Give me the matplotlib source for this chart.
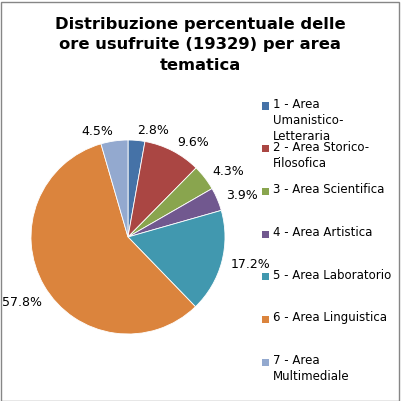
import matplotlib
matplotlib.use("Agg")
import matplotlib.pyplot as plt
from matplotlib.patches import Rectangle
import numpy as np

categories = ["1 - Area\nUmanistico-\nLetteraria", "2 - Area Storico-\nFilosofica",
              "3 - Area Scientifica", "4 - Area Artistica", "5 - Area Laboratorio",
              "6 - Area Linguistica", "7 - Area\nMultimediale"]
values = [2.8, 9.6, 4.3, 3.9, 17.2, 57.8, 4.5]
colors = ["#4572A7", "#AA4643", "#89A54E", "#71588F", "#4198AF", "#DB843D", "#93A9CF"]
title = "Distribuzione percentuale delle\nore usufruite (19329) per area\ntematica"

W = H = 401
fig = plt.figure(figsize=(W / 100, H / 100), dpi=100)
fig.patch.set_facecolor("white")

cx, cy, r = 128, 237, 97
ax = fig.add_axes([(cx - r) / W, (H - cy - r) / H, 2 * r / W, 2 * r / H])
labels = ["%.1f%%" % v for v in values]
wedges, texts = ax.pie(values, colors=colors, startangle=90, counterclock=False,
                       labels=labels, labeldistance=1.1,
                       wedgeprops=dict(edgecolor="white", linewidth=0.6),
                       textprops=dict(fontsize=9, color="black"))
ax.set_xlim(-1, 1)
ax.set_ylim(-1, 1)
ax.set_aspect("equal")
# Excel "best fit" pulls the left-hand labels a bit closer to the pie
for t in texts:
    x, y = t.get_position()
    if x < -0.5:
        t.set_position((x * 0.93, y * 1.08 - 0.08))

fig.text(200 / W, 1 - 45 / H, title, ha="center", va="center", fontsize=11.8,
         fontweight="bold", linespacing=1.5)

# legend
y0 = 106
step = 42.7
for i, (lab, col) in enumerate(zip(categories, colors)):
    yc = y0 + i * step
    fig.patches.append(Rectangle((262 / W, 1 - (yc + 3.5) / H), 7 / W, 7 / H,
                                 transform=fig.transFigure, facecolor=col,
                                 edgecolor="none"))
    fig.text(273 / W, 1 - (yc - 8) / H, lab, ha="left", va="top", fontsize=8.5,
             linespacing=1.3, color="black")

fig.patches.append(Rectangle((0.5 / W, 0.5 / H), (W - 3) / W, (H - 2) / H,
                             transform=fig.transFigure, facecolor="none",
                             edgecolor="#868686", linewidth=1))

fig.savefig("out.png", dpi=100)
